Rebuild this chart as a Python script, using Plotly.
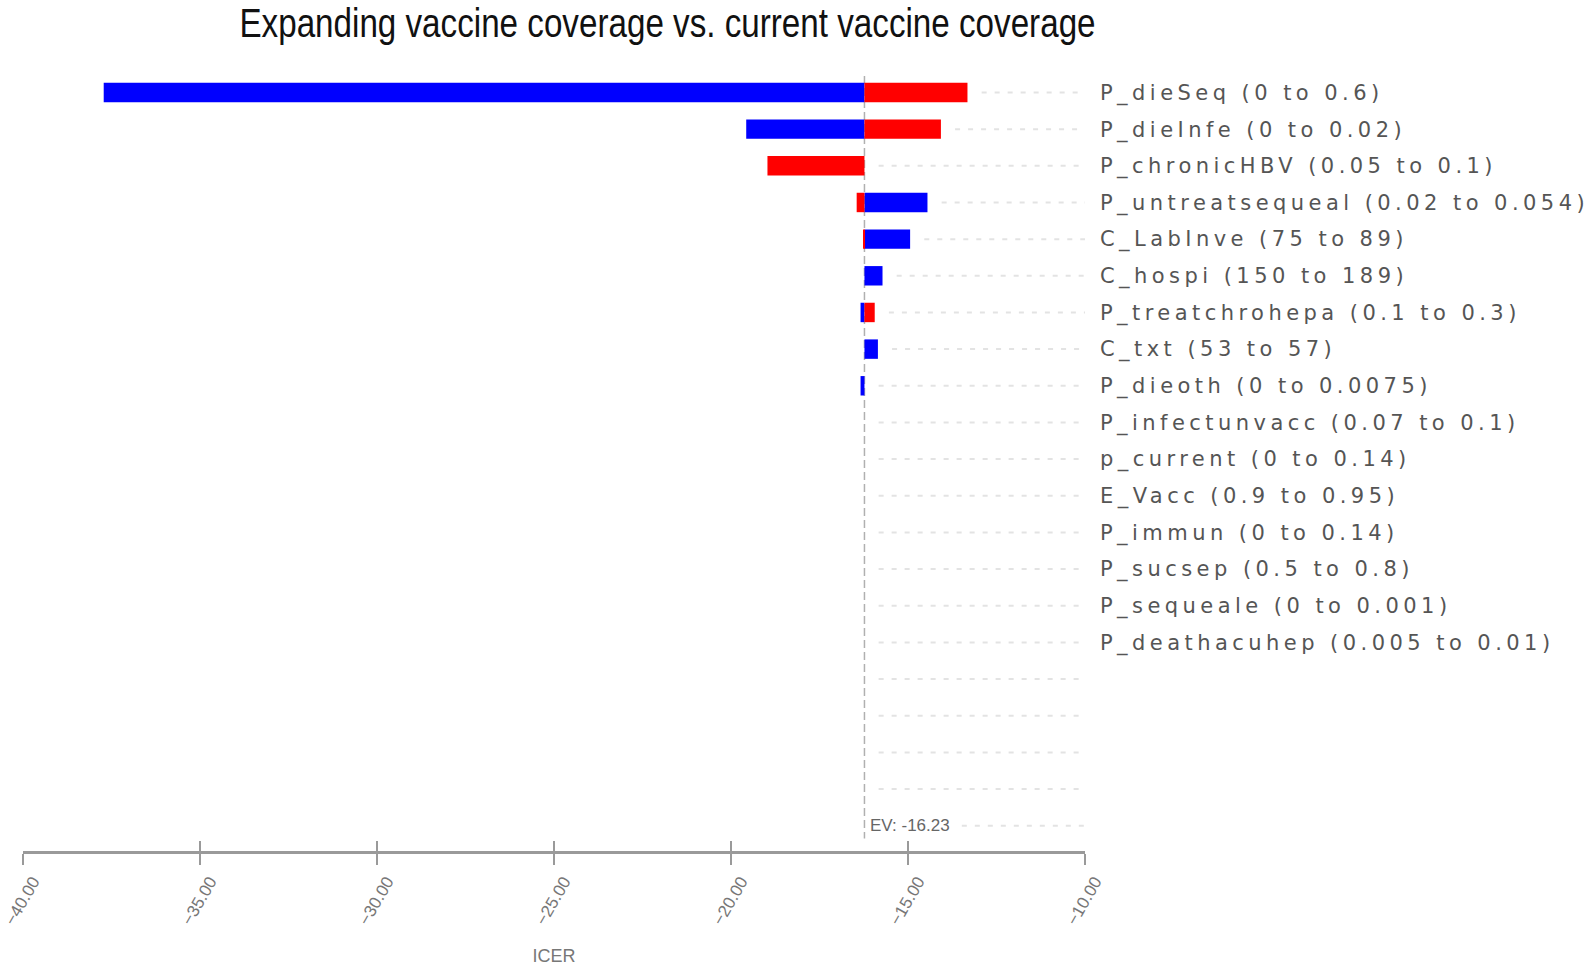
import plotly.graph_objects as go

# ---------------- data ----------------
title_text = "Expanding vaccine coverage vs. current vaccine coverage"
params = [
    "P_dieSeq (0 to 0.6)",
    "P_dieInfe (0 to 0.02)",
    "P_chronicHBV (0.05 to 0.1)",
    "P_untreatsequeal (0.02 to 0.054)",
    "C_LabInve (75 to 89)",
    "C_hospi (150 to 189)",
    "P_treatchrohepa (0.1 to 0.3)",
    "C_txt (53 to 57)",
    "P_dieoth (0 to 0.0075)",
    "P_infectunvacc (0.07 to 0.1)",
    "p_current (0 to 0.14)",
    "E_Vacc (0.9 to 0.95)",
    "P_immun (0 to 0.14)",
    "P_sucsep (0.5 to 0.8)",
    "P_sequeale (0 to 0.001)",
    "P_deathacuhep (0.005 to 0.01)",
]
ev = -16.23
# ICER at low parameter value (blue) and high parameter value (red)
icer_low = [-37.72, -19.57, -16.23, -14.45, -14.94, -15.72, -16.34, -15.85, -16.34,
            -16.23, -16.23, -16.23, -16.23, -16.23, -16.23, -16.23]
icer_high = [-13.32, -14.07, -18.97, -16.45, -16.26, -16.23, -15.94, -16.23, -16.23,
             -16.23, -16.23, -16.23, -16.23, -16.23, -16.23, -16.23]
n_rows = 21
x_ticks = [-40, -35, -30, -25, -20, -15, -10]
x_title = "ICER"
ev_label = "EV: -16.23"

# --------------- figure ---------------
rows = list(range(len(params)))
fig = go.Figure()

# dashed row guide lines
gap = 0.4
for r in range(n_rows):
    if r < len(params):
        start = max(ev, icer_low[r], icer_high[r]) + gap
    elif r == n_rows - 1:
        start = ev + 2.75
    else:
        start = ev + gap
    fig.add_trace(go.Scatter(
        x=[start, x_ticks[-1]], y=[r, r], mode="lines",
        line=dict(color="#e3e3e3", width=2, dash="5px,8px"),
        hoverinfo="skip", showlegend=False))

fig.add_trace(go.Bar(
    y=rows, x=[v - ev for v in icer_low], base=ev, orientation="h",
    marker=dict(color="#0000ff", line=dict(width=0)), width=0.53,
    showlegend=False, name="low"))
fig.add_trace(go.Bar(
    y=rows, x=[v - ev for v in icer_high], base=ev, orientation="h",
    marker=dict(color="#ff0000", line=dict(width=0)), width=0.53,
    showlegend=False, name="high"))

# dummy trace for the secondary tick axis
fig.add_trace(go.Scatter(x=[x_ticks[0]], y=[0], xaxis="x2", mode="markers",
                         marker=dict(opacity=0), hoverinfo="skip", showlegend=False))

fig.add_shape(type="line", x0=ev, x1=ev, y0=-0.45, y1=20.35, xref="x", yref="y",
              line=dict(color="#b0b0b0", width=1.5, dash="8px,4px"), layer="below")

fig.add_annotation(x=ev, y=n_rows - 1, xref="x", yref="y", text=ev_label,
                   showarrow=False, xanchor="left", yanchor="middle", xshift=4,
                   font=dict(family="Liberation Sans, Arial, sans-serif",
                             size=17, color="#666666"))

fig.update_layout(
    width=1594, height=968,
    margin=dict(l=23, r=509, t=76, b=117),
    paper_bgcolor="white", plot_bgcolor="white",
    barmode="overlay",
    title=dict(text=title_text, x=667.5 / 1594, xref="container", xanchor="center",
               y=1 - 23 / 968, yref="container", yanchor="middle",
               font=dict(family="Liberation Sans, Arial, sans-serif", size=40,
                         color="#111111")),
    xaxis=dict(range=[x_ticks[0], x_ticks[-1]], tickvals=x_ticks, tickformat=".2f",
               tickangle=-60, showgrid=False, zeroline=False, automargin=False,
               ticklabeloverflow="allow", ticklabelshift=10,
               showline=True, linecolor="#9a9a9a", linewidth=3,
               ticks="outside", ticklen=11, tickwidth=2, tickcolor="#9a9a9a",
               tickfont=dict(family="Liberation Sans, Arial, sans-serif",
                             size=17, color="#777777"),
               title=dict(text=x_title, standoff=22,
                          font=dict(family="Liberation Sans, Arial, sans-serif",
                                    size=18, color="#777777"))),
    xaxis2=dict(range=[x_ticks[0], x_ticks[-1]], tickvals=x_ticks, overlaying="x",
                side="bottom", anchor="y", showgrid=False, zeroline=False,
                automargin=False,
                showline=False, showticklabels=False, ticks="inside", ticklen=10,
                tickwidth=2, tickcolor="#9a9a9a"),
    yaxis=dict(range=[20.69, -0.45], tickvals=rows, ticktext=params, side="right",
               showgrid=False, zeroline=False, showline=False, ticks="",
               automargin=False, ticklabelstandoff=14,
               tickfont=dict(family="DejaVu Sans", size=21, color="#555555")),
)

post = ("var s=document.createElement('style');"
        "s.innerHTML='body{margin:0;padding:0}"
        " .yaxislayer-above .ytick text{letter-spacing:4.45px}"
        " .gtitle{transform:scaleX(0.83);transform-box:fill-box;transform-origin:center}';"
        "document.head.appendChild(s);")
fig.write_html("out.html", post_script=post, config={"displayModeBar": False})
